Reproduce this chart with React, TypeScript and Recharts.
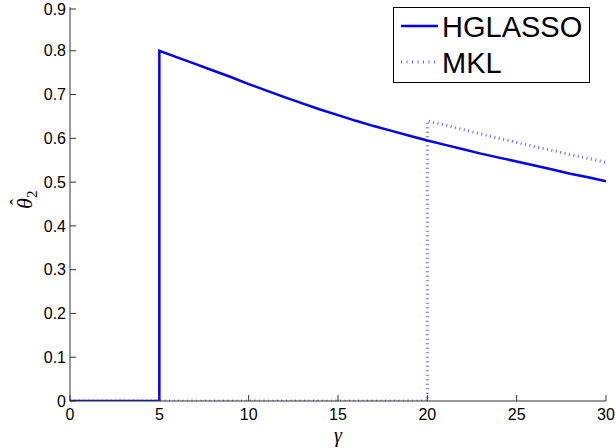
import React from 'react';
import { LineChart, Line, XAxis, YAxis, Legend } from 'recharts';

const hgX = [0, 5, 5, 6, 7, 8, 9, 10, 11, 12, 13, 14, 15, 16, 17, 18, 19, 20, 21, 22, 23, 24, 25, 26, 27, 28, 29, 30];
const hgY = [0, 0, 0.8, 0.785, 0.77, 0.755, 0.74, 0.724, 0.709, 0.694, 0.68, 0.666, 0.653, 0.64, 0.628, 0.617, 0.606, 0.595, 0.585, 0.575, 0.565, 0.556, 0.547, 0.538, 0.529, 0.519, 0.511, 0.502];

const mklX = [0, 20, 20, 21, 22, 23, 24, 25, 26, 27, 28, 29, 30];
const mklY = [0, 0, 0.64, 0.63, 0.62, 0.61, 0.6, 0.591, 0.581, 0.572, 0.563, 0.554, 0.545];

const xTicks = [0, 5, 10, 15, 20, 25, 30];
const yTicks = [0, 0.1, 0.2, 0.3, 0.4, 0.5, 0.6, 0.7, 0.8, 0.9];

const hgData = hgX.map((x, i) => ({ x, y: hgY[i] }));
const mklData = mklX.map((x, i) => ({ x, y: mklY[i] }));

const BLUE = '#0000ff';
const AXIS = '#333333';
const FONT = 'Liberation Sans, Arial, Helvetica, sans-serif';
const SERIF = 'Liberation Serif, Times New Roman, serif';

const AXIS_X = 70;
const AXIS_Y = 401;
const TICK_LEN = 6;

const fmt = (v: number) => (v === 0 ? '0' : String(Math.round(v * 10) / 10));

const XTick = (props: any) => {
  const { x, y, payload } = props;
  return (
    <g>
      <line x1={x} x2={x} y1={AXIS_Y} y2={AXIS_Y - TICK_LEN} stroke={AXIS} strokeWidth={1} />
      <text x={x} y={y} dy="0.71em" textAnchor="middle" fontFamily={FONT} fontSize={16} fill="#000">
        {fmt(payload.value)}
      </text>
    </g>
  );
};

const YTick = (props: any) => {
  const { x, y, payload } = props;
  return (
    <g>
      <line x1={AXIS_X} x2={AXIS_X + TICK_LEN} y1={y} y2={y} stroke={AXIS} strokeWidth={1} />
      <text x={x} y={y} dy="0.355em" textAnchor="end" fontFamily={FONT} fontSize={16} fill="#000">
        {fmt(payload.value)}
      </text>
    </g>
  );
};

const LegendBox = (props: any) => {
  const payload = props.payload || [];
  return (
    <svg width={197} height={76} style={{ display: 'block' }}>
      <rect x={0.5} y={0.5} width={196} height={75} fill="#fff" stroke="#000" strokeWidth={1} />
      {payload.map((p: any, i: number) => {
        const yLine = i === 0 ? 19 : 55;
        const yText = i === 0 ? 30 : 66;
        const dotted = p.value === 'MKL';
        return (
          <g key={p.value}>
            <line
              x1={8}
              x2={45}
              y1={yLine}
              y2={yLine}
              stroke={BLUE}
              strokeWidth={dotted ? 3 : 2.5}
              strokeDasharray={dotted ? '1 4.5' : undefined}
              strokeOpacity={dotted ? 0.6 : 1}
            />
            <text x={49} y={yText} fontFamily={FONT} fontSize={29} fill="#000">
              {p.value}
            </text>
          </g>
        );
      })}
    </svg>
  );
};

const XLabel = (props: any) => {
  const vb = props.viewBox || { x: 70, width: 536 };
  return (
    <text
      x={vb.x + vb.width / 2}
      y={442}
      textAnchor="middle"
      fontFamily={SERIF}
      fontStyle="italic"
      fontSize={20}
      fill="#000"
    >
      γ
    </text>
  );
};

const YLabel = () => {
  const cx = 32;
  const cy = 201;
  return (
    <g transform={`rotate(-90, ${cx}, ${cy})`}>
      <text x={cx - 8} y={cy} fontFamily={SERIF} fontStyle="italic" fontSize={22} fill="#000">
        θ
      </text>
      <text x={cx - 4} y={cy - 9} fontFamily={SERIF} fontSize={18} fill="#000">
        ˆ
      </text>
      <text x={cx + 3} y={cy + 5} fontFamily={SERIF} fontSize={15} fill="#000">
        2
      </text>
    </g>
  );
};

export default function App() {
  return (
    <div style={{ position: 'absolute', left: 0, top: 0, width: 615, height: 448, background: '#fff' }}>
      <LineChart width={615} height={448} margin={{ top: 7, right: 9, bottom: 17, left: 30 }}>
        <XAxis
          type="number"
          dataKey="x"
          domain={[0, 30]}
          ticks={xTicks}
          allowDataOverflow
          height={30}
          tickSize={0}
          tickLine={false}
          tickMargin={8}
          stroke={AXIS}
          tick={<XTick />}
          label={<XLabel />}
        />
        <YAxis
          type="number"
          dataKey="y"
          domain={[0, 0.9]}
          ticks={yTicks}
          allowDataOverflow
          width={40}
          tickSize={0}
          tickLine={false}
          tickMargin={4}
          stroke={AXIS}
          tick={<YTick />}
          label={<YLabel />}
        />
        <Legend
          layout="horizontal"
          verticalAlign="middle"
          align="center"
          content={<LegendBox />}
          wrapperStyle={{ position: 'absolute', left: 393, top: 7, width: 197, height: 76 }}
        />
        <Line
          data={hgData}
          dataKey="y"
          name="HGLASSO"
          type="linear"
          stroke={BLUE}
          strokeWidth={2.5}
          dot={false}
          activeDot={false}
          isAnimationActive={false}
        />
        <Line
          data={mklData}
          dataKey="y"
          name="MKL"
          type="linear"
          stroke={BLUE}
          strokeWidth={3}
          strokeOpacity={0.6}
          strokeDasharray="1 3.5"
          dot={false}
          activeDot={false}
          isAnimationActive={false}
        />
      </LineChart>
    </div>
  );
}
